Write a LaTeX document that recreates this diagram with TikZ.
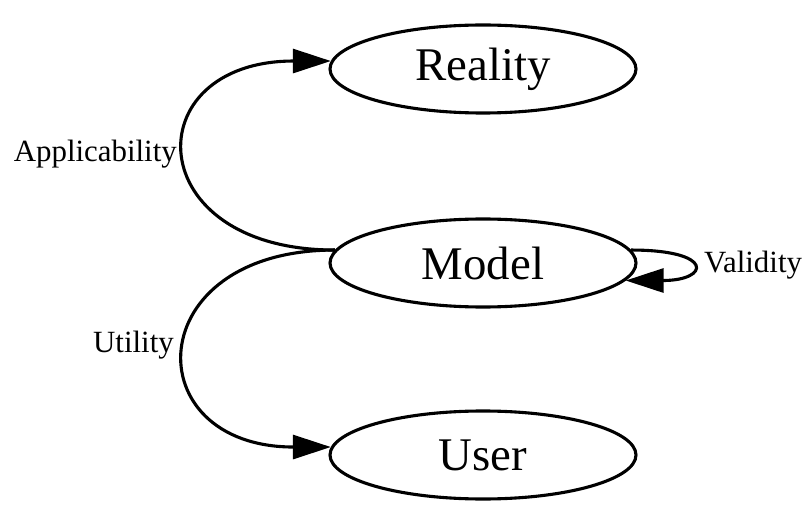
\documentclass[tikz,border=0pt]{standalone}
\usepackage{fontspec}
\setmainfont{Liberation Serif}
\usetikzlibrary{shapes.geometric,arrows.meta}
\begin{document}
\begin{tikzpicture}[x=1bp,y=-1bp,
  state/.style={ellipse,draw,line width=3.1bp,minimum width=306bp,minimum height=88bp,inner sep=0pt,font=\fontsize{47}{50}\selectfont},
  lbl/.style={font=\fontsize{31}{34}\selectfont,inner sep=0pt},
  conn/.style={line width=3.1bp,-{Triangle[length=38bp,width=24bp]}}]
\useasboundingbox (0,0) rectangle (807,509);
\node[state] (reality) at (483,69) {Reality};
\node[state] (model) at (483,263) {Model};
\node[state] (user) at (483,455) {User};
\draw[conn] (model.175) .. controls +(-196,0) and +(-196,0) .. (reality.177);
\draw[conn] (model.175) .. controls +(-196,0) and +(-196,0) .. (user.177);
\draw[conn] (model.5) .. controls +(84,0) and +(84,0) .. (model.353);
\node[lbl,anchor=east] (lapp) at (177,154) {Applicability};
\node[lbl,anchor=east] (lutil) at (174,345) {Utility};
\node[lbl,anchor=west] (lval) at (704,265) {Validity};
\end{tikzpicture}
\end{document}
